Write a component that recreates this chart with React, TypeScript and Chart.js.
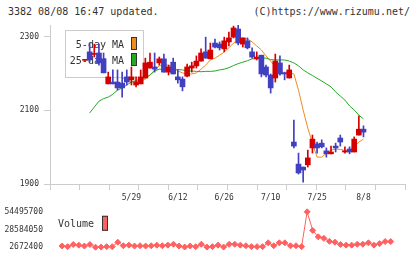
import { useEffect, useRef } from 'react';
import { Chart, registerables } from 'chart.js';

Chart.register(...registerables);

const MONO = "'DejaVu Sans Mono', monospace";
Chart.defaults.font.family = MONO;

const TITLE = '3382 08/08 16:47 updated.';
const CREDIT = '(C)https://www.rizumu.net/';

const DATES = [
  '5/15', '5/16', '5/17', '5/20', '5/21', '5/22', '5/23', '5/24', '5/27', '5/28',
  '5/29', '5/30', '5/31', '6/3', '6/4', '6/5', '6/6', '6/7', '6/10', '6/11',
  '6/12', '6/13', '6/14', '6/17', '6/18', '6/19', '6/20', '6/21', '6/24', '6/25',
  '6/26', '6/27', '6/28', '7/1', '7/2', '7/3', '7/4', '7/5', '7/8', '7/9',
  '7/10', '7/11', '7/12', '7/16', '7/17', '7/18', '7/19', '7/22', '7/23', '7/24',
  '7/25', '7/26', '7/29', '7/30', '7/31', '8/1', '8/2', '8/5', '8/6', '8/7',
  '8/8',
];

const OPEN = [
  2236, 2259, 2252, 2256, 2240, 2172, 2177, 2177, 2174, 2191,
  2183, 2169, 2172, 2188, 2215, 2218, 2229, 2240, 2204, 2231,
  2191, 2185, 2193, 2215, 2221, 2234, 2259, 2240, 2283, 2280,
  2267, 2286, 2299, 2321, 2280, 2289, 2259, 2240, 2250, 2218,
  2196, 2188, 2229, 2202, 2188, 2014, 1954, 1946, 1952, 1998,
  2009, 2011, 1990, 1982, 2003, 2025, 1987, 1995, 1987, 2033,
  2049,
];
const HIGH = [
  2238, 2283, 2280, 2280, 2256, 2204, 2210, 2210, 2204, 2210,
  2218, 2191, 2210, 2242, 2256, 2256, 2245, 2253, 2223, 2242,
  2210, 2191, 2226, 2231, 2248, 2267, 2299, 2283, 2294, 2286,
  2299, 2313, 2329, 2332, 2297, 2297, 2270, 2259, 2250, 2223,
  2199, 2253, 2248, 2204, 2223, 2074, 1984, 1946, 1992, 2033,
  2014, 2020, 1998, 2003, 2011, 2033, 2001, 2001, 2028, 2085,
  2058,
];
const LOW = [
  2236, 2231, 2245, 2223, 2202, 2172, 2172, 2155, 2136, 2169,
  2169, 2164, 2172, 2188, 2215, 2204, 2223, 2204, 2196, 2199,
  2174, 2153, 2191, 2204, 2215, 2234, 2242, 2240, 2270, 2264,
  2259, 2275, 2297, 2278, 2272, 2267, 2242, 2237, 2191, 2191,
  2147, 2177, 2196, 2183, 2188, 1998, 1927, 1905, 1946, 1984,
  1984, 1998, 1973, 1982, 1987, 2003, 1984, 1982, 1987, 2033,
  2028,
];
const CLOSE = [
  2237, 2237, 2253, 2229, 2202, 2191, 2172, 2161, 2161, 2177,
  2191, 2177, 2191, 2229, 2231, 2212, 2240, 2204, 2218, 2199,
  2183, 2164, 2218, 2221, 2234, 2256, 2242, 2264, 2272, 2270,
  2289, 2297, 2324, 2283, 2297, 2270, 2245, 2245, 2199, 2196,
  2161, 2234, 2199, 2199, 2210, 2003, 1930, 1938, 1971, 2022,
  1998, 2001, 1982, 1987, 1998, 2014, 1990, 1987, 2022, 2049,
  2041,
];

const MA5 = [
  null, null, 2237, 2231, 2226, 2218, 2207, 2196, 2189, 2183,
  2178, 2177, 2180, 2185, 2196, 2210, 2221, 2223, 2223, 2218,
  2207, 2202, 2199, 2199, 2202, 2212, 2223, 2237, 2242, 2250,
  2259, 2270, 2283, 2291, 2295, 2294, 2286, 2275, 2264, 2248,
  2234, 2218, 2204, 2202, 2202, 2199, 2155, 2101, 2052, 2011,
  1973, 1973, 1984, 1992, 1995, 1994, 1991, 1990, 2001, 2014,
  2022,
];
const MA25 = [
  null, 2093, 2109, 2125, 2132, 2136, 2144, 2155, 2161, 2169,
  2177, 2181, 2185, 2189, 2196, 2207, 2212, 2211, 2210, 2210,
  2211, 2210, 2207, 2207, 2206, 2205, 2206, 2206, 2207, 2210,
  2212, 2216, 2222, 2227, 2231, 2235, 2240, 2241, 2242, 2242,
  2238, 2237, 2237, 2237, 2234, 2229, 2221, 2210, 2202, 2195,
  2187, 2180, 2172, 2164, 2150, 2139, 2128, 2112, 2101, 2087,
  2077,
];

const VOLUME = [
  null, 4400000, 3500000, 6600000, 5700000, 4400000, 6600000, 2672400, 2800000, 3500000,
  3500000, 10000000, 4800000, 5700000, 4400000, 4800000, 4400000, 4800000, 5700000, 4800000,
  5700000, 7000000, 4400000, 2900000, 4400000, 3500000, 7000000, 2900000, 3500000, 5700000,
  2900000, 7000000, 7000000, 5700000, 4800000, 3500000, 3500000, 3500000, 9100000, 4800000,
  9100000, 9100000, 4800000, 4800000, 3500000, 54495700, 27300000, 17800000, 15600000, 11300000,
  10000000, 6600000, 5700000, 5700000, 7000000, 7000000, 9100000, 5700000, 7900000, 10900000,
  10900000,
];

const PRICE_TICKS = [1900, 2100, 2300];
const PRICE_MIN = 1900;
const PRICE_MAX = 2332;

const RED = '#d40000';
const BLUE = '#4040c0';
const ORANGE = '#f08c1e';
const GREEN = '#22aa22';
const VOL_RED = '#ff6060';
const AXIS = '#cccccc';
const TEXT = '#333333';

const X_MIN = -1.17;
const X_MAX = 62.57;

const IDX = DATES.map((_, i) => i);
const LABEL_IDX = IDX.filter((i) => i > 0 && i % 10 === 0);
const CANDLE_COLORS = IDX.map((i) => (CLOSE[i] >= OPEN[i] ? RED : BLUE));

const VOL_VALUES = VOLUME.filter((v) => v !== null) as number[];
const VOL_MIN = Math.min(...VOL_VALUES);
const VOL_MAX = Math.max(...VOL_VALUES);

const maLegendPlugin = {
  id: 'maLegend',
  beforeDatasetDraw(chart: any, args: any) {
    if (args.index !== 0) return;
    const { ctx, chartArea } = chart;
    const left = chartArea.left + 15;
    const top = chartArea.top + 5;
    const w = 78;
    const h = 47;
    ctx.save();
    ctx.fillStyle = '#ffffff';
    ctx.fillRect(left, top, w, h);
    ctx.strokeStyle = AXIS;
    ctx.lineWidth = 1;
    ctx.strokeRect(left + 0.5, top + 0.5, w, h);
    ctx.font = `10px ${MONO}`;
    ctx.textAlign = 'right';
    ctx.textBaseline = 'middle';
    const items = [chart.data.datasets[3], chart.data.datasets[2]];
    items.forEach((ds: any, k: number) => {
      const cy = top + 15 + k * 16;
      ctx.fillStyle = TEXT;
      ctx.fillText(ds.label, left + 59, cy);
      ctx.fillStyle = ds.borderColor;
      ctx.fillRect(left + 66, cy - 8, 6, 13);
      ctx.strokeStyle = '#333333';
      ctx.strokeRect(left + 66.5, cy - 7.5, 5, 12);
    });
    ctx.restore();
  },
};

const volLegendPlugin = {
  id: 'volLegend',
  afterDraw(chart: any) {
    const { ctx, chartArea } = chart;
    const left = chartArea.left + 8;
    const cy = chartArea.top + 13;
    ctx.save();
    ctx.font = `10px ${MONO}`;
    ctx.textAlign = 'left';
    ctx.textBaseline = 'middle';
    ctx.fillStyle = TEXT;
    const label = chart.data.datasets[0].label;
    ctx.fillText(label, left, cy);
    ctx.fillStyle = VOL_RED;
    ctx.fillRect(left + 44, cy - 9, 6, 15);
    ctx.strokeStyle = '#333333';
    ctx.lineWidth = 1;
    ctx.strokeRect(left + 44.5, cy - 8.5, 5, 14);
    ctx.restore();
  },
};

export default function App() {
  const mainRef = useRef<HTMLCanvasElement | null>(null);
  const volRef = useRef<HTMLCanvasElement | null>(null);

  useEffect(() => {
    const tickFont = { family: MONO, size: 8 };
    const main = new Chart(mainRef.current as HTMLCanvasElement, {
      type: 'bar',
      data: {
        datasets: [
          {
            type: 'bar',
            label: 'wick',
            data: IDX.map((i) => ({ x: i, y: [LOW[i], HIGH[i]] })) as any,
            backgroundColor: CANDLE_COLORS,
            barThickness: 1,
            minBarLength: 1,
            grouped: false,
            order: 2,
            xAxisID: 'x',
            yAxisID: 'y',
          } as any,
          {
            type: 'bar',
            label: 'body',
            data: IDX.map((i) => ({ x: i, y: [OPEN[i], CLOSE[i]] })) as any,
            backgroundColor: CANDLE_COLORS,
            barThickness: 5,
            minBarLength: 1,
            grouped: false,
            order: 1,
            xAxisID: 'x',
            yAxisID: 'y',
          } as any,
          {
            type: 'line',
            label: '25-day MA',
            data: IDX.map((i) => ({ x: i, y: MA25[i] })) as any,
            borderColor: GREEN,
            backgroundColor: GREEN,
            borderWidth: 1,
            pointRadius: 0,
            tension: 0,
            order: 3,
            xAxisID: 'x',
            yAxisID: 'y',
          } as any,
          {
            type: 'line',
            label: '5-day MA',
            data: IDX.map((i) => ({ x: i, y: MA5[i] })) as any,
            borderColor: ORANGE,
            backgroundColor: ORANGE,
            borderWidth: 1,
            pointRadius: 0,
            tension: 0,
            order: 4,
            xAxisID: 'x',
            yAxisID: 'y',
          } as any,
        ],
      },
      options: {
        animation: false,
        responsive: false,
        events: [],
        layout: { padding: { top: 25, right: 15, left: 0, bottom: 0 } },
        plugins: { legend: { display: false }, tooltip: { enabled: false } },
        scales: {
          x: {
            type: 'linear',
            axis: 'x',
            position: 'bottom',
            weight: 1,
            min: X_MIN,
            max: X_MAX,
            grid: { display: false, drawTicks: false },
            border: { display: false },
            afterBuildTicks: (s: any) => {
              s.ticks = LABEL_IDX.map((v) => ({ value: v }));
            },
            afterFit: (s: any) => {
              s.height = 14;
            },
            ticks: {
              font: tickFont,
              color: TEXT,
              padding: 3,
              maxRotation: 0,
              autoSkip: false,
              callback: (v: any) => DATES[v as number],
            },
          },
          x2: {
            type: 'linear',
            axis: 'x',
            position: 'bottom',
            weight: 0,
            min: 0,
            max: 11,
            grid: { drawOnChartArea: false, drawTicks: true, tickLength: 6, color: AXIS },
            border: { display: true, color: AXIS },
            afterFit: (s: any) => {
              s.height = 6;
            },
            ticks: { display: false, stepSize: 1 },
          },
          y: {
            type: 'linear',
            position: 'left',
            min: PRICE_MIN,
            max: PRICE_MAX,
            afterBuildTicks: (s: any) => {
              s.ticks = PRICE_TICKS.map((v) => ({ value: v }));
            },
            afterFit: (s: any) => {
              s.width = 50;
            },
            grid: { drawOnChartArea: false, drawTicks: true, tickLength: 6, color: AXIS },
            border: { display: true, color: AXIS },
            ticks: {
              font: tickFont,
              color: TEXT,
              padding: 5,
              callback: (v: any) => String(v),
            },
          },
        },
      } as any,
      plugins: [maLegendPlugin],
    });

    const vol = new Chart(volRef.current as HTMLCanvasElement, {
      type: 'line',
      data: {
        datasets: [
          {
            label: 'Volume',
            data: IDX.map((i) => ({ x: i, y: VOLUME[i] })) as any,
            borderColor: VOL_RED,
            backgroundColor: VOL_RED,
            borderWidth: 1,
            pointStyle: 'rectRot',
            pointRadius: 3,
            pointBorderWidth: 1,
            tension: 0,
            clip: false,
          } as any,
        ],
      },
      options: {
        animation: false,
        responsive: false,
        events: [],
        layout: { padding: { top: 9, right: 15, left: 0, bottom: 10 } },
        plugins: { legend: { display: false }, tooltip: { enabled: false } },
        scales: {
          x: { type: 'linear', min: X_MIN, max: X_MAX, display: false },
          y: {
            type: 'linear',
            position: 'left',
            min: VOL_MIN,
            max: VOL_MAX,
            afterBuildTicks: (s: any) => {
              s.ticks = [VOL_MIN, (VOL_MIN + VOL_MAX) / 2, VOL_MAX].map((v) => ({ value: v }));
            },
            afterFit: (s: any) => {
              s.width = 50;
            },
            grid: { display: false, drawTicks: false },
            border: { display: false },
            ticks: {
              font: { family: MONO, size: 8 },
              color: TEXT,
              padding: 7,
              callback: (v: any) => String(Math.round(v as number)),
            },
          },
        },
      } as any,
      plugins: [volLegendPlugin],
    });

    return () => {
      main.destroy();
      vol.destroy();
    };
  }, []);

  const headerStyle: any = {
    position: 'absolute',
    top: 6,
    font: `10px ${MONO}`,
    lineHeight: '12px',
    color: TEXT,
    whiteSpace: 'pre',
  };

  return (
    <div
      style={{
        position: 'fixed',
        left: 0,
        top: 0,
        width: 420,
        height: 259,
        background: '#ffffff',
        overflow: 'hidden',
      }}
    >
      <div style={{ ...headerStyle, left: 8 }}>{TITLE}</div>
      <div style={{ ...headerStyle, right: 10 }}>{CREDIT}</div>
      <canvas
        ref={mainRef}
        width={420}
        height={204}
        style={{ position: 'absolute', left: 0, top: 0, width: 420, height: 204 }}
      />
      <canvas
        ref={volRef}
        width={420}
        height={59}
        style={{ position: 'absolute', left: 0, top: 200, width: 420, height: 59 }}
      />
    </div>
  );
}
